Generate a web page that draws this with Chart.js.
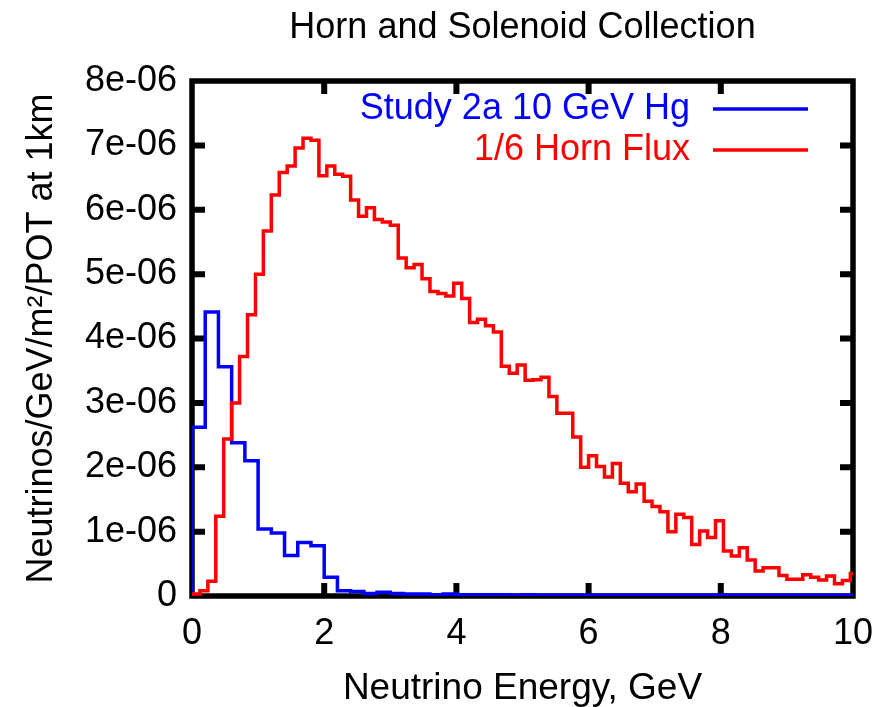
<!DOCTYPE html>
<html>
<head>
<meta charset="utf-8">
<script src="https://cdn.jsdelivr.net/npm/chart.js@4.4.1/dist/chart.umd.min.js"></script>
<style>
  html, body { margin: 0; padding: 0; background: #ffffff; }
  #wrap { width: 883px; height: 707px; }
</style>
</head>
<body>
<div id="wrap"><canvas id="fluxChart" width="883" height="707"></canvas></div>
<script>
// Text shown on the chart
const chartTitle = 'Horn and Solenoid Collection';
const xAxisTitle = 'Neutrino Energy, GeV';
const yAxisTitle = 'Neutrinos/GeV/m\u00B2/POT at 1km';
const seriesNames = ['Study 2a 10 GeV Hg', '1/6 Horn Flux'];
const seriesColors = ['#0000ff', '#ff0000'];
const xTickLabels = ['0', '2', '4', '6', '8', '10'];
const yTickLabels = ['0', '1e-06', '2e-06', '3e-06', '4e-06', '5e-06', '6e-06', '7e-06', '8e-06'];

// Histogram binning (GeV)
const studyBinWidth = 0.2;
const hornBinWidth = 0.12;
const energyMax = 10;

// Study 2a 10 GeV Hg flux per bin, starting at 0 GeV
const studyFlux = [
  2.62e-6, 4.41e-6, 3.56e-6, 2.38e-6, 2.10e-6, 1.04e-6, 0.98e-6, 0.63e-6, 0.83e-6, 0.78e-6,
  0.29e-6, 0.08e-6, 0.07e-6, 0.04e-6, 0.06e-6, 0.04e-6, 0.03e-6, 0.03e-6, 0.02e-6, 0.03e-6,
  0.02e-6, 0.02e-6, 0.02e-6, 0.02e-6, 0.01e-6, 0.02e-6, 0.01e-6, 0.01e-6, 0.01e-6, 0.01e-6,
  0.01e-6, 0.01e-6, 0.01e-6, 0.01e-6, 0.01e-6, 0.01e-6, 0.01e-6, 0.01e-6, 0.01e-6, 0.01e-6,
  0.01e-6, 0.01e-6, 0.01e-6, 0.01e-6, 0.01e-6, 0.01e-6, 0.01e-6, 0.01e-6, 0.01e-6, 0.01e-6
];

// 1/6 of the horn flux per bin, starting at 0 GeV
const hornFlux = [
  0.03e-6, 0.08e-6, 0.23e-6, 1.24e-6, 2.44e-6, 3.00e-6, 3.72e-6, 4.37e-6, 5.00e-6, 5.67e-6,
  6.23e-6, 6.58e-6, 6.68e-6, 6.96e-6, 7.11e-6, 7.08e-6, 6.53e-6, 6.68e-6, 6.55e-6, 6.52e-6,
  6.15e-6, 5.90e-6, 6.03e-6, 5.85e-6, 5.81e-6, 5.76e-6, 5.25e-6, 5.10e-6, 5.15e-6, 4.93e-6,
  4.73e-6, 4.70e-6, 4.66e-6, 4.86e-6, 4.62e-6, 4.25e-6, 4.30e-6, 4.20e-6, 4.10e-6, 3.57e-6,
  3.46e-6, 3.59e-6, 3.35e-6, 3.36e-6, 3.40e-6, 3.10e-6, 2.84e-6, 2.84e-6, 2.47e-6, 2.00e-6,
  2.18e-6, 2.01e-6, 1.85e-6, 2.06e-6, 1.75e-6, 1.62e-6, 1.74e-6, 1.47e-6, 1.39e-6, 1.31e-6,
  1.00e-6, 1.27e-6, 1.22e-6, 0.80e-6, 1.01e-6, 0.91e-6, 1.17e-6, 0.70e-6, 0.62e-6, 0.75e-6,
  0.56e-6, 0.39e-6, 0.44e-6, 0.44e-6, 0.32e-6, 0.26e-6, 0.26e-6, 0.33e-6, 0.29e-6, 0.25e-6,
  0.31e-6, 0.19e-6, 0.24e-6, 0.35e-6
];

const FONT = '"Liberation Sans", Arial, Helvetica, sans-serif';

// Turn per-bin values into the corner points of a step outline
function histogramSteps(values, binWidth) {
  const pts = [{ x: 0, y: 0 }];
  values.forEach((v, i) => pts.push({ x: Math.min(i * binWidth, energyMax), y: v }));
  pts.push({ x: Math.min(values.length * binWidth, energyMax), y: values[values.length - 1] });
  return pts;
}

// Thick border with inward tick marks on all four sides
const framePlugin = {
  id: 'frame',
  beforeDatasetsDraw(chart) {
    const { ctx, chartArea: a, scales: { x, y } } = chart;
    const len = 13;
    ctx.save();
    ctx.strokeStyle = '#000';
    ctx.lineWidth = 6;
    ctx.lineCap = 'butt';
    ctx.beginPath();
    y.ticks.forEach(t => {
      const py = y.getPixelForValue(t.value);
      if (py > a.top + 2 && py < a.bottom - 2) {
        ctx.moveTo(a.left, py); ctx.lineTo(a.left + len, py);
        ctx.moveTo(a.right, py); ctx.lineTo(a.right - len, py);
      }
    });
    x.ticks.forEach(t => {
      const px = x.getPixelForValue(t.value);
      if (px > a.left + 2 && px < a.right - 2) {
        ctx.moveTo(px, a.bottom); ctx.lineTo(px, a.bottom - len);
        ctx.moveTo(px, a.top); ctx.lineTo(px, a.top + len);
      }
    });
    ctx.stroke();
    ctx.lineWidth = 5.5;
    ctx.strokeRect(a.left, a.top, a.right - a.left, a.bottom - a.top);
    ctx.restore();
  }
};

// Title over the plot box, and the key in its upper right corner
const textPlugin = {
  id: 'texts',
  afterDatasetsDraw(chart) {
    const { ctx, chartArea: a } = chart;
    ctx.save();
    ctx.font = '36px ' + FONT;
    ctx.textBaseline = 'middle';
    ctx.fillStyle = '#000';
    ctx.textAlign = 'center';
    ctx.fillText(chartTitle, (a.left + a.right) / 2, 28);

    const textRight = 690, lineStart = 713, lineEnd = 808;
    const rows = [109, 150];
    ctx.textAlign = 'right';
    seriesNames.forEach((name, i) => {
      ctx.fillStyle = seriesColors[i];
      ctx.fillText(name, textRight, rows[i]);
      ctx.strokeStyle = seriesColors[i];
      ctx.lineWidth = 3.5;
      ctx.beginPath();
      ctx.moveTo(lineStart, rows[i]);
      ctx.lineTo(lineEnd, rows[i]);
      ctx.stroke();
    });
    ctx.restore();
  }
};

new Chart(document.getElementById('fluxChart'), {
  type: 'line',
  data: {
    datasets: [
      {
        label: seriesNames[0],
        data: histogramSteps(studyFlux, studyBinWidth),
        borderColor: seriesColors[0],
        borderWidth: 3.5,
        stepped: 'before',
        pointRadius: 0,
        fill: false,
        order: 1
      },
      {
        label: seriesNames[1],
        data: histogramSteps(hornFlux, hornBinWidth),
        borderColor: seriesColors[1],
        borderWidth: 3.5,
        stepped: 'before',
        pointRadius: 0,
        fill: false,
        order: 0
      }
    ]
  },
  options: {
    responsive: false,
    animation: false,
    devicePixelRatio: 1,
    layout: { padding: { left: 0, right: 30, top: 81, bottom: 0 } },
    plugins: {
      legend: { display: false },
      tooltip: { enabled: false },
      title: { display: false }
    },
    scales: {
      x: {
        type: 'linear',
        min: 0,
        max: energyMax,
        grid: { display: false, drawTicks: false },
        border: { display: false },
        ticks: {
          stepSize: 2,
          autoSkip: false,
          maxRotation: 0,
          padding: 16,
          color: '#000',
          font: { family: FONT, size: 36, lineHeight: 1.2 },
          callback: (v, i) => xTickLabels[i]
        },
        title: {
          display: true,
          text: xAxisTitle,
          color: '#000',
          font: { family: FONT, size: 37, lineHeight: 1 },
          padding: 0
        },
        afterFit: s => {
          s.height = 111;
          s.paddingLeft = 0;
          s.paddingRight = 0;
        }
      },
      y: {
        type: 'linear',
        min: 0,
        max: 8e-6,
        grid: { display: false, drawTicks: false },
        border: { display: false },
        ticks: {
          stepSize: 1e-6,
          autoSkip: false,
          padding: 15,
          color: '#000',
          font: { family: FONT, size: 36, lineHeight: 1.2 },
          callback: (v, i) => yTickLabels[i]
        },
        title: {
          display: true,
          text: yAxisTitle,
          color: '#000',
          font: { family: FONT, size: 36, lineHeight: 1 },
          padding: { top: 24, bottom: 0 }
        },
        afterFit: s => {
          s.width = 192;
          s.paddingTop = 0;
          s.paddingBottom = 0;
        }
      }
    }
  },
  plugins: [framePlugin, textPlugin]
});
</script>
</body>
</html>
